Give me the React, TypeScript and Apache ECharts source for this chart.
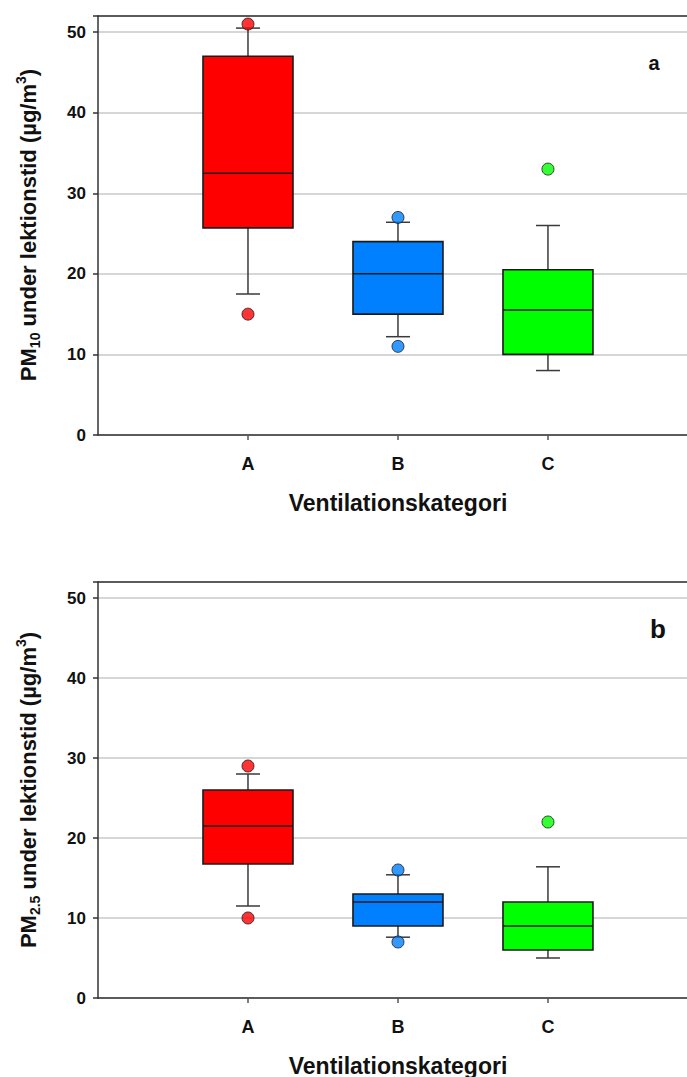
import React, { useEffect, useRef } from "react";
import * as echarts from "echarts";

const categories = ["A", "B", "C"];
const boxColors = ["#FF0000", "#0080FF", "#00FF00"];

// PM10 (panel a)
const pm10Min = [17.5, 12.2, 8];
const pm10Q1 = [25.7, 15, 10];
const pm10Median = [32.5, 20, 15.5];
const pm10Q3 = [47, 24, 20.5];
const pm10Max = [50.5, 26.4, 26];
const pm10OutlierCat = [0, 0, 1, 1, 2];
const pm10OutlierVal = [51, 15, 27, 11, 33];

// PM2.5 (panel b)
const pm25Min = [11.5, 7.6, 5];
const pm25Q1 = [16.75, 9, 6];
const pm25Median = [21.5, 12, 9];
const pm25Q3 = [26, 13, 12];
const pm25Max = [28, 15.4, 16.4];
const pm25OutlierCat = [0, 0, 1, 1, 2];
const pm25OutlierVal = [29, 10, 16, 7, 22];

const yTicks = [0, 10, 20, 30, 40, 50];

const FONT = "'Liberation Sans', Arial, sans-serif";

function boxData(mn: number[], q1: number[], md: number[], q3: number[], mx: number[]) {
  return categories.map((_, i) => [i + 1, mn[i], q1[i], md[i], q3[i], mx[i]]);
}

function outlierData(cat: number[], val: number[]) {
  return cat.map((c, i) => ({
    value: [c + 1, val[i]],
    itemStyle: { color: boxColors[c] },
  }));
}

function renderBox(params: any, api: any) {
  const x = api.value(0);
  const idx = params.dataIndex;
  const pMin = api.coord([x, api.value(1)]);
  const pQ1 = api.coord([x, api.value(2)]);
  const pMed = api.coord([x, api.value(3)]);
  const pQ3 = api.coord([x, api.value(4)]);
  const pMax = api.coord([x, api.value(5)]);
  const cx = pMin[0];
  const unit = api.size([1, 0])[0];
  const bw = unit * 0.6;
  const cw = unit * 0.16;
  const wStyle = { stroke: "#3a3a3a", lineWidth: 1.5 };
  return {
    type: "group",
    children: [
      { type: "line", shape: { x1: cx, y1: pMax[1], x2: cx, y2: pQ3[1] }, style: wStyle },
      { type: "line", shape: { x1: cx, y1: pQ1[1], x2: cx, y2: pMin[1] }, style: wStyle },
      { type: "line", shape: { x1: cx - cw / 2, y1: pMax[1], x2: cx + cw / 2, y2: pMax[1] }, style: wStyle },
      { type: "line", shape: { x1: cx - cw / 2, y1: pMin[1], x2: cx + cw / 2, y2: pMin[1] }, style: wStyle },
      {
        type: "rect",
        shape: { x: cx - bw / 2, y: pQ3[1], width: bw, height: pQ1[1] - pQ3[1] },
        style: { fill: boxColors[idx], stroke: "#1a1a1a", lineWidth: 1.6 },
      },
      {
        type: "line",
        shape: { x1: cx - bw / 2, y1: pMed[1], x2: cx + bw / 2, y2: pMed[1] },
        style: { stroke: "#1a1a1a", lineWidth: 1.5 },
      },
    ],
  };
}

function yAxisCfg(gridIndex: number) {
  return {
    type: "value",
    gridIndex,
    min: 0,
    max: 52,
    interval: 10,
    axisLine: { show: true, lineStyle: { color: "#333", width: 1.5 } },
    axisTick: { show: true, length: 5, lineStyle: { color: "#333", width: 1.5 } },
    axisLabel: {
      margin: 12,
      color: "#111",
      fontSize: 17,
      fontWeight: "bold",
      fontFamily: FONT,
      formatter: (v: number) => (yTicks.includes(v) ? String(v) : ""),
    },
    splitLine: { show: true, lineStyle: { color: "#c8c8c8", width: 1.5 } },
  };
}

const X_MAX = 3.927;

function xAxisCfg(gridIndex: number) {
  return {
    type: "value",
    gridIndex,
    min: 0,
    max: X_MAX,
    interval: 1,
    axisLine: { show: true, onZero: false, lineStyle: { color: "#333", width: 1.5 } },
    axisTick: { show: true, length: 5, customValues: [1, 2, 3], lineStyle: { color: "#555", width: 1.5 } },
    axisLabel: {
      margin: 20,
      color: "#111",
      fontSize: 18,
      fontWeight: "bold",
      fontFamily: FONT,
      customValues: [1, 2, 3],
      formatter: (v: number) => categories[Math.round(v) - 1] ?? "",
    },
    splitLine: { show: false },
  };
}

function xTopCfg(gridIndex: number) {
  return {
    type: "value",
    gridIndex,
    position: "top",
    min: 0,
    max: X_MAX,
    axisLine: { show: true, onZero: false, lineStyle: { color: "#333", width: 1.5 } },
    axisTick: { show: false },
    axisLabel: { show: false },
    splitLine: { show: false },
  };
}

function yLabel(sub: string, cx: number, cy: number) {
  return {
    type: "text",
    x: cx,
    y: cy,
    rotation: Math.PI / 2,
    style: {
      text: `{m|PM}{s|${sub}}{m| under lektionstid (µg/m}{p|3}{m|)}`,
      align: "center",
      verticalAlign: "middle",
      fill: "#111",
      rich: {
        m: { fontSize: 22, fontWeight: "bold", fontFamily: FONT, fill: "#111", lineHeight: 28 },
        s: { fontSize: 14, fontWeight: "bold", fontFamily: FONT, fill: "#111", lineHeight: 14, verticalAlign: "bottom" },
        p: { fontSize: 14, fontWeight: "bold", fontFamily: FONT, fill: "#111", lineHeight: 14, verticalAlign: "top" },
      },
    },
  };
}

function xTitle(cy: number) {
  return {
    type: "text",
    x: 398,
    y: cy,
    style: {
      text: "Ventilationskategori",
      align: "center",
      verticalAlign: "middle",
      fontSize: 23,
      fontWeight: "bold",
      fontFamily: FONT,
      fill: "#111",
    },
  };
}

export default function App() {
  const ref = useRef<HTMLDivElement>(null);
  useEffect(() => {
    if (!ref.current) return;
    const chart = echarts.init(ref.current, undefined, { renderer: "svg" });
    chart.setOption({
      animation: false,
      backgroundColor: "#ffffff",
      grid: [
        { left: 98, top: 16, right: 0, height: 419 },
        { left: 98, top: 582, right: 0, height: 416 },
      ],
      xAxis: [xAxisCfg(0), xAxisCfg(1), xTopCfg(0), xTopCfg(1)],
      yAxis: [yAxisCfg(0), yAxisCfg(1)],
      series: [
        {
          type: "custom",
          xAxisIndex: 0,
          yAxisIndex: 0,
          clip: false,
          renderItem: renderBox,
          encode: { x: 0, y: [1, 2, 3, 4, 5] },
          data: boxData(pm10Min, pm10Q1, pm10Median, pm10Q3, pm10Max),
          z: 2,
        },
        {
          type: "scatter",
          xAxisIndex: 0,
          yAxisIndex: 0,
          symbol: "circle",
          symbolSize: 12,
          itemStyle: { borderColor: "#1a1a1a", borderWidth: 1 },
          data: outlierData(pm10OutlierCat, pm10OutlierVal),
          z: 3,
        },
        {
          type: "custom",
          xAxisIndex: 1,
          yAxisIndex: 1,
          clip: false,
          renderItem: renderBox,
          encode: { x: 0, y: [1, 2, 3, 4, 5] },
          data: boxData(pm25Min, pm25Q1, pm25Median, pm25Q3, pm25Max),
          z: 2,
        },
        {
          type: "scatter",
          xAxisIndex: 1,
          yAxisIndex: 1,
          symbol: "circle",
          symbolSize: 12,
          itemStyle: { borderColor: "#1a1a1a", borderWidth: 1 },
          data: outlierData(pm25OutlierCat, pm25OutlierVal),
          z: 3,
        },
      ],
      graphic: [
        yLabel("10", 28, 225),
        yLabel("2.5", 28, 790),
        xTitle(503),
        xTitle(1066),
        {
          type: "text",
          x: 654,
          y: 63,
          style: { text: "a", align: "center", verticalAlign: "middle", fontSize: 20, fontWeight: "bold", fontFamily: FONT, fill: "#111" },
        },
        {
          type: "text",
          x: 658,
          y: 629,
          style: { text: "b", align: "center", verticalAlign: "middle", fontSize: 26, fontWeight: "bold", fontFamily: FONT, fill: "#111" },
        },
      ],
    });
    return () => chart.dispose();
  }, []);
  return (
    <div
      ref={ref}
      style={{ position: "absolute", left: 0, top: 0, width: 687, height: 1077, background: "#fff" }}
    />
  );
}
